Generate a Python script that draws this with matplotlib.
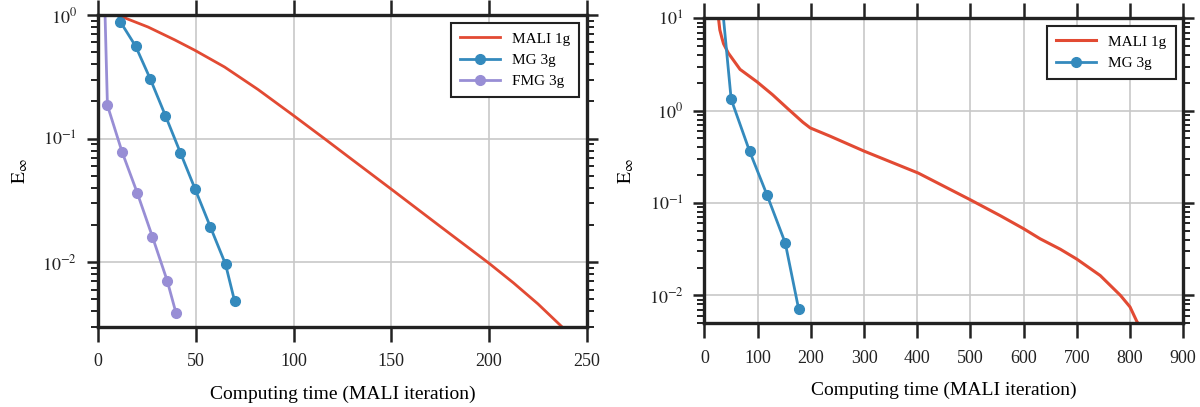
import matplotlib
matplotlib.use("Agg")
from matplotlib import pyplot as plt
import numpy as np

# left panel: iterations vs error
mali_left_x = [10, 25.6, 39.2, 49.4, 64.7, 81.8, 99.7, 115.8, 127.8, 150, 175, 200, 212.5,
               225, 237.3]
mali_left_y = [1.0, 0.80, 0.63, 0.52, 0.38, 0.25, 0.155, 0.10, 0.0718, 0.039, 0.0195, 0.0098,
               0.0068, 0.0046, 0.0030]
mg_left_x = [3.7, 11.4, 19.2, 26.8, 34.5, 42.1, 49.7, 57.4, 65.2, 69.9]
mg_left_y = [2.1, 0.883, 0.561, 0.302, 0.153, 0.0771, 0.0389, 0.0194, 0.00964, 0.00481]
fmg_left_x = [3.3, 4.8, 12.3, 20.0, 27.8, 35.4, 39.9]
fmg_left_y = [1.5, 0.186, 0.078, 0.0366, 0.0161, 0.00706, 0.00387]

# right panel
mali_right_x = [24, 26.5, 29, 33, 36, 45, 67, 99, 128, 156, 185, 199, 236, 301,
                402, 499, 556, 600, 631, 669, 700, 744, 782, 800, 813, 816]
mali_right_y = [13, 10, 7.5, 6.1, 5.3, 4.2, 2.8, 2.05, 1.49, 1.06, 0.75, 0.65, 0.53, 0.363,
                0.211, 0.109, 0.073, 0.0527, 0.041, 0.0316, 0.0247, 0.0164, 0.0100, 0.0075,
                0.0052, 0.0049]
mg_right_x = [17, 50.3, 85, 118, 152, 177]
mg_right_y = [140, 1.33, 0.363, 0.121, 0.0369, 0.00718]

red = "#E24A33"
blue = "#348ABD"
purple = "#988ED5"

plt.rcParams["font.family"] = ["Liberation Serif", "DejaVu Serif"]
plt.rcParams["mathtext.fontset"] = "stix"

fig = plt.figure(figsize=(12, 4.07), dpi=100)
ax1 = fig.add_axes([0.0817, 0.197, 0.4073, 0.766])
ax2 = fig.add_axes([0.587, 0.206, 0.399, 0.749])


def style(ax):
    ax.set_yscale("log")
    ax.grid(True, which="major", color="#c8c8c8", lw=1.2)
    ax.set_axisbelow(True)
    for s in ax.spines.values():
        s.set_linewidth(2.4)
        s.set_color("#222222")
    ax.tick_params(which="both", direction="out", top=True, right=True,
                   colors="#222222", labelsize=13)
    ax.tick_params(axis="x", which="major", length=11, width=1.8, pad=8)
    ax.tick_params(axis="y", which="major", length=8, width=1.8, pad=7)
    ax.tick_params(axis="y", which="minor", length=5, width=1.4)
    ax.tick_params(axis="x", which="minor", top=False, bottom=False)
    ax.set_xlabel("Computing time (MALI iteration)", fontsize=14, labelpad=11)
    ax.set_ylabel(r"$\mathrm{E}_{\infty}$", fontsize=14, labelpad=9)


ax1.plot(mali_left_x, mali_left_y, color=red, lw=2, label="MALI 1g")
ax1.plot(mg_left_x, mg_left_y, color=blue, lw=2, marker="o", ms=7, label="MG 3g")
ax1.plot(fmg_left_x, fmg_left_y, color=purple, lw=2, marker="o", ms=7, label="FMG 3g")
style(ax1)
ax1.set_xlim(0, 250)
ax1.set_ylim(0.003, 1)
ax1.set_xticks([0, 50, 100, 150, 200, 250])
ax1.set_yticks([1e-2, 1e-1, 1])
ax1.set_yticklabels([r"$10^{-2}$", r"$10^{-1}$", r"$10^{0}$"])
leg1 = ax1.legend(loc="upper right", fontsize=11, fancybox=False, framealpha=1,
                  edgecolor="#222222", borderpad=0.6, handlelength=2.6)
leg1.get_frame().set_linewidth(1.5)

ax2.plot(mali_right_x, mali_right_y, color=red, lw=2.2, label="MALI 1g")
ax2.plot(mg_right_x, mg_right_y, color=blue, lw=2, marker="o", ms=7, label="MG 3g")
style(ax2)
ax2.set_xlim(0, 900)
ax2.set_ylim(0.005, 10)
ax2.set_xticks(np.arange(0, 1000, 100))
ax2.set_yticks([1e-2, 1e-1, 1, 10])
ax2.set_yticklabels([r"$10^{-2}$", r"$10^{-1}$", r"$10^{0}$", r"$10^{1}$"])
leg2 = ax2.legend(loc="upper right", fontsize=11, fancybox=False, framealpha=1,
                  edgecolor="#222222", borderpad=0.6, handlelength=2.6)
leg2.get_frame().set_linewidth(1.5)

plt.savefig("out.png", dpi=100)
